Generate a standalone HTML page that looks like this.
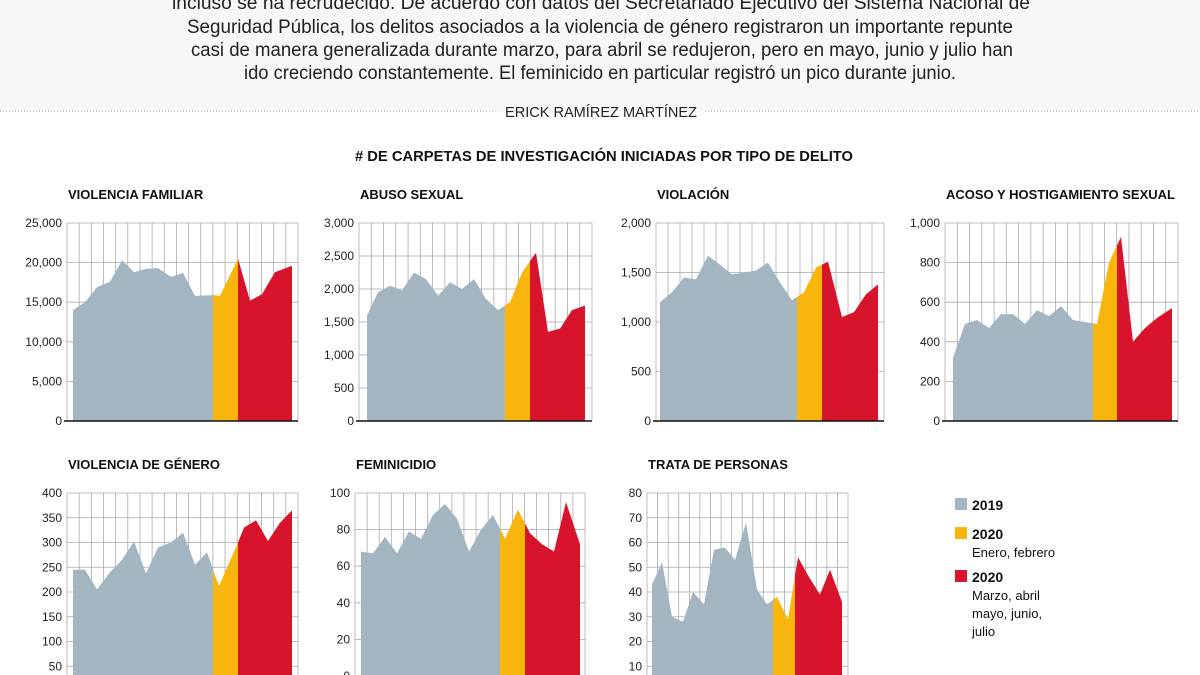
<!DOCTYPE html><html><head><meta charset="utf-8"><style>
body{margin:0;width:1200px;height:675px;overflow:hidden;background:#fff;font-family:"Liberation Sans",sans-serif;}
</style></head><body>
<svg id="s" width="1200" height="675" xmlns="http://www.w3.org/2000/svg" style="position:absolute;left:0;top:0">
<rect x="0" y="0" width="1200" height="112" fill="#f7f7f7"/>
<g font-family="Liberation Sans, sans-serif" font-size="19" fill="#222" text-anchor="middle">
<text x="601" y="9" textLength="858" lengthAdjust="spacingAndGlyphs">incluso se ha recrudecido. De acuerdo con datos del Secretariado Ejecutivo del Sistema Nacional de</text>
<text x="600" y="33" textLength="826" lengthAdjust="spacingAndGlyphs">Seguridad Pública, los delitos asociados a la violencia de género registraron un importante repunte</text>
<text x="602" y="56" textLength="822" lengthAdjust="spacingAndGlyphs">casi de manera generalizada durante marzo, para abril se redujeron, pero en mayo, junio y julio han</text>
<text x="600" y="79" textLength="712" lengthAdjust="spacingAndGlyphs">ido creciendo constantemente. El feminicido en particular registró un pico durante junio.</text>
<text x="601" y="117" font-size="15" textLength="192" lengthAdjust="spacingAndGlyphs">ERICK RAMÍREZ MARTÍNEZ</text>
<text x="604" y="161" font-size="15" font-weight="bold" fill="#111" textLength="498" lengthAdjust="spacingAndGlyphs"># DE CARPETAS DE INVESTIGACIÓN INICIADAS POR TIPO DE DELITO</text>
</g>
<line x1="0" y1="111" x2="495" y2="111" stroke="#bbb" stroke-dasharray="1,2"/>
<line x1="705" y1="111" x2="1200" y2="111" stroke="#bbb" stroke-dasharray="1,2"/>
<g id="c"></g>
<g font-family="Liberation Sans, sans-serif" fill="#111">
<rect x="955" y="498" width="12" height="12" fill="#a3b5c0"/><text x="972" y="510" font-size="14" font-weight="bold">2019</text>
<rect x="955" y="527" width="12" height="12" fill="#f8b50e"/><text x="972" y="539" font-size="14" font-weight="bold">2020</text>
<text x="972" y="557" font-size="13">Enero, febrero</text>
<rect x="955" y="570" width="12" height="12" fill="#d8142c"/><text x="972" y="582" font-size="14" font-weight="bold">2020</text>
<text x="972" y="600" font-size="13">Marzo, abril</text>
<text x="972" y="618" font-size="13">mayo, junio,</text>
<text x="972" y="636" font-size="13">julio</text>
</g>
</svg>
<script>
var C=[
{t:"VIOLENCIA FAMILIAR",L:67,R:298,T:223,B:421,max:25000,step:5000,s1:213,s2:238,fmt:1,
p:[[73,14000],[85,15000],[97,16900],[110,17600],[122,20300],[134,18800],[146,19200],[158,19300],[171,18200],[183,18700],[195,15800],[213,15900],[220,15800],[238,20500],[250,15200],[262,16000],[275,18800],[292,19600]]},
{t:"ABUSO SEXUAL",L:359,R:592,T:223,B:421,max:3000,step:500,s1:505,s2:530,fmt:1,
p:[[367,1600],[378,1950],[390,2050],[402,1980],[414,2250],[426,2150],[438,1900],[450,2100],[462,2000],[474,2150],[486,1850],[498,1680],[510,1800],[522,2250],[536,2550],[548,1350],[560,1400],[572,1680],[585,1750]]},
{t:"VIOLACIÓN",L:656,R:884,T:223,B:421,max:2000,step:500,s1:797,s2:822,fmt:1,
p:[[660,1200],[672,1300],[684,1450],[696,1430],[708,1670],[720,1580],[732,1480],[744,1500],[756,1520],[768,1600],[780,1400],[792,1220],[804,1300],[816,1550],[828,1610],[842,1050],[854,1100],[866,1280],[878,1380]]},
{t:"ACOSO Y HOSTIGAMIENTO SEXUAL",L:945,R:1178,T:223,B:421,max:1000,step:200,s1:1093,s2:1117,fmt:1,
p:[[953,320],[965,490],[977,510],[989,470],[1001,540],[1013,540],[1025,490],[1037,560],[1049,530],[1061,580],[1073,510],[1085,500],[1097,490],[1109,800],[1121,930],[1133,400],[1145,470],[1157,520],[1172,570]]},
{t:"VIOLENCIA DE GÉNERO",L:67,R:298,T:493,B:691,max:400,step:50,s1:213,s2:238,
p:[[73,245],[85,245],[97,205],[110,240],[122,265],[134,302],[146,238],[158,290],[171,300],[183,320],[195,255],[207,280],[219,212],[238,300],[244,330],[256,345],[268,303],[280,340],[292,365]]},
{t:"FEMINICIDIO",L:355,R:585,T:493,B:676,max:100,step:20,s1:500,s2:525,
p:[[361,68],[373,67],[385,76],[397,67],[409,79],[421,75],[433,88],[445,94],[457,86],[469,68],[481,80],[493,88],[505,75],[518,91],[530,78],[542,72],[554,68],[566,95],[580,72]]},
{t:"TRATA DE PERSONAS",L:647,R:848,T:493,B:691,max:80,step:10,s1:773,s2:795,
p:[[652,43],[662,52],[672,30],[683,28],[693,40],[704,35],[714,57],[725,58],[735,53],[746,68],[757,41],[767,35],[777,38],[788,29],[798,54],[809,46],[820,39],[830,49],[842,36]]}
];
var h="",id=0;
C.forEach(function(c){
 var k=(c.B-c.T)/c.max;
 h+='<text x="'+(c.L+1)+'" y="'+(c.T-24)+'" font-family="Liberation Sans, sans-serif" font-size="13" font-weight="bold" fill="#111">'+c.t+'</text>';
 for(var x=c.L;x<=c.R+0.5;x+=(c.R-c.L)/19) h+='<line x1="'+x+'" y1="'+c.T+'" x2="'+x+'" y2="'+c.B+'" stroke="#aaa" stroke-width="0.8"/>';
 for(var v=0;v<=c.max;v+=c.step){var y=c.B-v*k;
  h+='<line x1="'+c.L+'" y1="'+y+'" x2="'+c.R+'" y2="'+y+'" stroke="#aaa" stroke-width="0.8"/>';
  var lab=c.fmt?v.toLocaleString("en-US"):v;
  h+='<text x="'+(c.L-5)+'" y="'+(y+4)+'" text-anchor="end" font-family="Liberation Sans, sans-serif" font-size="12" fill="#222">'+lab+'</text>';}
 var pts=c.p.map(function(q){return q[0]+','+(c.B-q[1]*k)}).join(' ');
 pts=c.p[0][0]+','+c.B+' '+pts+' '+c.p[c.p.length-1][0]+','+c.B;
 var bands=[[0,c.s1,'#a3b5c0'],[c.s1,c.s2,'#f8b50e'],[c.s2,2000,'#d8142c']];
 bands.forEach(function(b){id++;
  h+='<clipPath id="k'+id+'"><rect x="'+b[0]+'" y="0" width="'+(b[1]-b[0])+'" height="700"/></clipPath>';
  h+='<polygon points="'+pts+'" fill="'+b[2]+'" clip-path="url(#k'+id+')"/>';});
 h+='<line x1="'+(c.L-3)+'" y1="'+c.B+'" x2="'+c.R+'" y2="'+c.B+'" stroke="#111" stroke-width="1.5"/>';
});
document.getElementById("c").innerHTML=h;
</script>
</body></html>
